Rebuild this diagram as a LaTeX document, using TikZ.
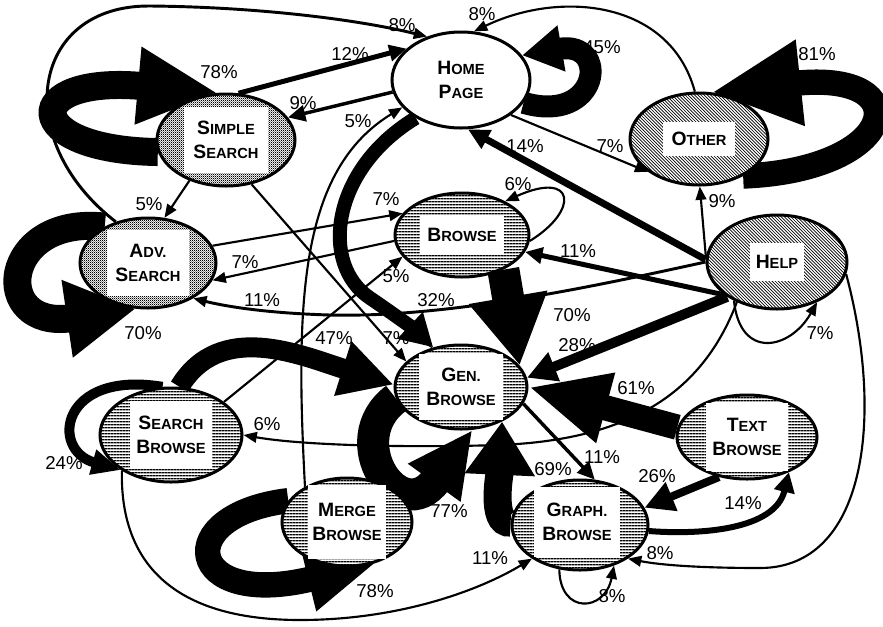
\documentclass[tikz,border=0pt]{standalone}
\usepackage{fontspec}
\setmainfont{Liberation Sans}
\usetikzlibrary{shapes.geometric,arrows.meta,patterns}
\pgfdeclarelayer{bg}
\pgfsetlayers{bg,main}
\pgfdeclarepatternformonly{hlin}{\pgfqpoint{0pt}{0pt}}{\pgfqpoint{2.4pt}{2.4pt}}{\pgfqpoint{2.4pt}{2.4pt}}{%
  \pgfsetlinewidth{1.2pt}%
  \pgfpathmoveto{\pgfqpoint{-0.1pt}{1.2pt}}%
  \pgfpathlineto{\pgfqpoint{2.5pt}{1.2pt}}%
  \pgfusepath{stroke}}
\pgfdeclarepatternformonly{dlin}{\pgfqpoint{-1pt}{-1pt}}{\pgfqpoint{3.4pt}{3.4pt}}{\pgfqpoint{2.4pt}{2.4pt}}{%
  \pgfsetlinewidth{0.5pt}%
  \pgfpathmoveto{\pgfqpoint{0pt}{2.4pt}}%
  \pgfpathlineto{\pgfqpoint{2.5pt}{-0.1pt}}%
  \pgfusepath{stroke}}
\pgfdeclarepatternformonly{chk}{\pgfqpoint{0pt}{0pt}}{\pgfqpoint{1.6pt}{1.6pt}}{\pgfqpoint{1.6pt}{1.6pt}}{%
  \pgfpathrectangle{\pgfqpoint{0pt}{0pt}}{\pgfqpoint{0.95pt}{0.95pt}}%
  \pgfpathrectangle{\pgfqpoint{0.8pt}{0.8pt}}{\pgfqpoint{0.95pt}{0.95pt}}%
  \pgfusepath{fill}}
\newcommand\SC[2]{#1{\fontsize{11}{12}\selectfont #2}}
\tikzset{
  st/.style={ellipse, draw, line width=2.25pt, inner sep=0pt, preaction={fill=white}},
  hp/.style={st},
  hz/.style={st, pattern=hlin},
  dg/.style={st, pattern=dlin},
  dt/.style={st, pattern=chk},
  bx/.style={fill=white, inner sep=0pt, align=center, font=\bfseries\fontsize{14.5}{18}\selectfont},
  pl/.style={font=\fontsize{14}{15}\selectfont, inner sep=0pt},
  thn/.style={line width=1.6pt, -{Triangle[length=10pt,width=8pt]}},
  med/.style={line width=#1, -{Triangle[length=13pt,width=12pt]}},
  band/.style n args={3}{line width=#1, -{Triangle[length=#2,width=#3]}},
}
\begin{document}
\begin{tikzpicture}[x=0.75pt,y=-0.75pt]
\useasboundingbox (0,0) rectangle (883,626);
% nodes
\node[hp, minimum width=103.5pt, minimum height=72pt] (hp) at (461,80) {};
\node[bx] (hpT) at (hp) {\SC{H}{OME}\\\SC{P}{AGE}};
\node[dt, minimum width=103.5pt, minimum height=69pt] (ss) at (226,140) {};
\node[bx, minimum width=63pt, minimum height=49pt] (ssT) at (ss) {\SC{S}{IMPLE}\\\SC{S}{EARCH}};
\node[dg, minimum width=103.5pt, minimum height=69pt] (ot) at (699,139) {};
\node[bx, minimum width=54pt, minimum height=26pt] (otT) at (ot) {\SC{O}{THER}};
\node[dt, minimum width=102pt, minimum height=67.5pt] (as) at (148,263) {};
\node[bx, minimum width=62pt, minimum height=49pt] (asT) at (as) {\SC{A}{DV.}\\\SC{S}{EARCH}};
\node[hz, minimum width=100.5pt, minimum height=63pt] (br) at (462,235) {};
\node[bx, minimum width=63pt, minimum height=28.5pt] (brT) at (br) {\SC{B}{ROWSE}};
\node[dg, minimum width=105pt, minimum height=70.5pt] (hl) at (777,262) {};
\node[bx, minimum width=41pt, minimum height=28pt] (hlT) at (hl) {\SC{H}{ELP}};
\node[hz, minimum width=99pt, minimum height=63pt] (gb) at (461,387) {};
\node[bx, minimum width=63pt, minimum height=49.5pt] (gbT) at (gb) {\SC{G}{EN.}\\\SC{B}{ROWSE}};
\node[hz, minimum width=106.5pt, minimum height=70.5pt] (sb) at (171,435) {};
\node[bx, minimum width=62pt, minimum height=51pt] (sbT) at (sb) {\SC{S}{EARCH}\\\SC{B}{ROWSE}};
\node[hz, minimum width=105pt, minimum height=63pt] (tb) at (747,437) {};
\node[bx, minimum width=62pt, minimum height=51pt] (tbT) at (tb) {\SC{T}{EXT}\\\SC{B}{ROWSE}};
\node[hz, minimum width=97.5pt, minimum height=66pt] (mb) at (347,522) {};
\node[bx, minimum width=58.5pt, minimum height=56pt] (mbT) at (mb) {\SC{M}{ERGE}\\\SC{B}{ROWSE}};
\node[hz, minimum width=102pt, minimum height=67.5pt] (gr) at (580,525) {};
\node[bx, minimum width=64pt, minimum height=52pt] (grT) at (577,522) {\SC{G}{RAPH.}\\\SC{B}{ROWSE}};
% edges
\begin{pgfonlayer}{bg}
% self loops
\draw[band={21pt}{60pt}{54pt}] (ss.190) .. controls (20,150) and (20,75) .. (ss.100);
\draw[band={16.5pt}{30pt}{33pt}] (hp.-20) .. controls (600,125) and (610,40) .. (hp.22);
\draw[band={19pt}{67pt}{60pt}] (ot.-40) .. controls (900,170) and (920,70) .. (ot.75);
\draw[band={21pt}{52pt}{55pt}] (as.140) .. controls (0,215) and (-10,330) .. (as.255);
\draw[band={19pt}{52pt}{45pt}] (mb.160) .. controls (170,515) and (185,610) .. (mb.-55);
\draw[band={7.5pt}{22pt}{18pt}] (sb.100) .. controls (60,370) and (50,450) .. (sb.215);
\draw[band={24pt}{49pt}{45pt}] (gb.190) .. controls (340,440) and (400,530) .. (gb.-75);
\draw[thn] (br.-5) .. controls (580,210) and (575,170) .. (br.38);
\draw[thn] (hl.222) .. controls (740,360) and (790,350) .. (hl.-45);
\draw[thn] (gr.-115) .. controls (560,615) and (605,612) .. (gr.-50);
% thick bands
\draw[band={15pt}{40pt}{40pt}] (sb.80) .. controls (220,320) and (300,355) .. (gb.178);
\draw[band={10.5pt}{24pt}{26pt}] (hp.220) .. controls (330,170) and (320,265) .. (370,298) .. controls (395,315) and (415,330) .. (gb.125);
\draw[band={24pt}{52pt}{56pt}] (br.-40) -- (gb.20);
\draw[band={7.5pt}{22pt}{22pt}] (hl.215) -- (gb.8);
\draw[band={19pt}{60pt}{50pt}] (tb.172) -- (gb.0);
\draw[band={21pt}{40pt}{50pt}] (gr.178) .. controls (490,525) and (500,470) .. (gb.-40);
\draw[band={6pt}{22pt}{22pt}] (tb.235) -- (gr.15);
\draw[band={4.5pt}{15pt}{15pt}] (gr.-5) .. controls (700,535) and (775,530) .. (tb.-40);
\draw[band={5.2pt}{16pt}{15pt}] (hl.178) -- (hp.-82);
\draw[med=3.75pt] (hl.212) -- (br.-15);
\draw[med=3.75pt] (ss.75) -- (hp.150);
\draw[med=2.6pt] (hp.190) -- (ss.20);
\draw[med=2.6pt] (gb.-15) -- (gr.72);
% thin
\draw[thn] (hl.-10) .. controls (885,420) and (865,568) .. (760,568) .. controls (700,568) and (660,565) .. (gr.-35);
\draw[thn] (sb.216) .. controls (120,560) and (170,620) .. (300,620) .. controls (400,620) and (480,590) .. (gr.215);
\draw[thn] (hl.225) .. controls (700,400) and (620,440) .. (500,445) .. controls (400,448) and (300,445) .. (sb.0);
\draw[thn] (hl.176) -- (ot.-89);
\draw[thn, line width=2.2pt] (hl.180) .. controls (600,285) and (450,318) .. (330,315) .. controls (260,313) and (220,305) .. (as.-38);
\draw[thn] (as.15) -- (br.160);
\draw[thn] (br.185) -- (as.-15);
\draw[thn] (sb.32) -- (br.200);
\draw[thn] (ss.-60) -- (gb.155);
\draw[thn] (ss.-132) -- (as.70);
\draw[thn, line width=2.2pt] (as.128) .. controls (10,140) and (30,5) .. (150,6) .. controls (260,7) and (360,20) .. (hp.128);
\draw[thn] (ot.95) .. controls (670,0) and (560,-10) .. (hp.75);
\draw[thn] (hp.-35) -- (ot.213);
\draw[thn] (mb.140) .. controls (295,300) and (300,170) .. (hp.205);
\end{pgfonlayer}
% labels
\node[pl] (l1) at (402,25) {8\%};
\node[pl] (l2) at (219,72) {78\%};
\node[pl] (l3) at (350,54) {12\%};
\node[pl] (l4) at (303,103) {9\%};
\node[pl] (l5) at (358,121) {5\%};
\node[pl] (l6) at (482,14) {8\%};
\node[pl] (l7) at (602,47) {45\%};
\node[pl] (l8) at (817,54) {81\%};
\node[pl] (l9) at (525,146) {14\%};
\node[pl] (l10) at (610,146) {7\%};
\node[pl] (l11) at (722,201) {9\%};
\node[pl] (l12) at (149,204) {5\%};
\node[pl] (l13) at (386,199) {7\%};
\node[pl] (l14) at (518,184) {6\%};
\node[pl] (l15) at (245,262) {7\%};
\node[pl] (l16) at (578,251) {11\%};
\node[pl] (l17) at (262,300) {11\%};
\node[pl] (l18) at (396,276) {5\%};
\node[pl] (l19) at (436,300) {32\%};
\node[pl] (l20) at (572,315) {70\%};
\node[pl] (l21) at (577,345) {28\%};
\node[pl] (l22) at (334,338) {47\%};
\node[pl] (l23) at (396,338) {7\%};
\node[pl] (l24) at (636,388) {61\%};
\node[pl] (l25) at (820,333) {7\%};
\node[pl] (l26) at (64,463) {24\%};
\node[pl] (l27) at (267,424) {6\%};
\node[pl] (l28) at (449,511) {77\%};
\node[pl] (l29) at (553,469) {69\%};
\node[pl] (l30) at (602,457) {11\%};
\node[pl] (l31) at (490,558) {11\%};
\node[pl] (l32) at (375,591) {78\%};
\node[pl] (l33) at (657,476) {26\%};
\node[pl] (l34) at (743,503) {14\%};
\node[pl] (l35) at (660,553) {8\%};
\node[pl] (l36) at (612,596) {8\%};
\node[pl] (l37) at (143,333) {70\%};
\end{tikzpicture}
\end{document}
